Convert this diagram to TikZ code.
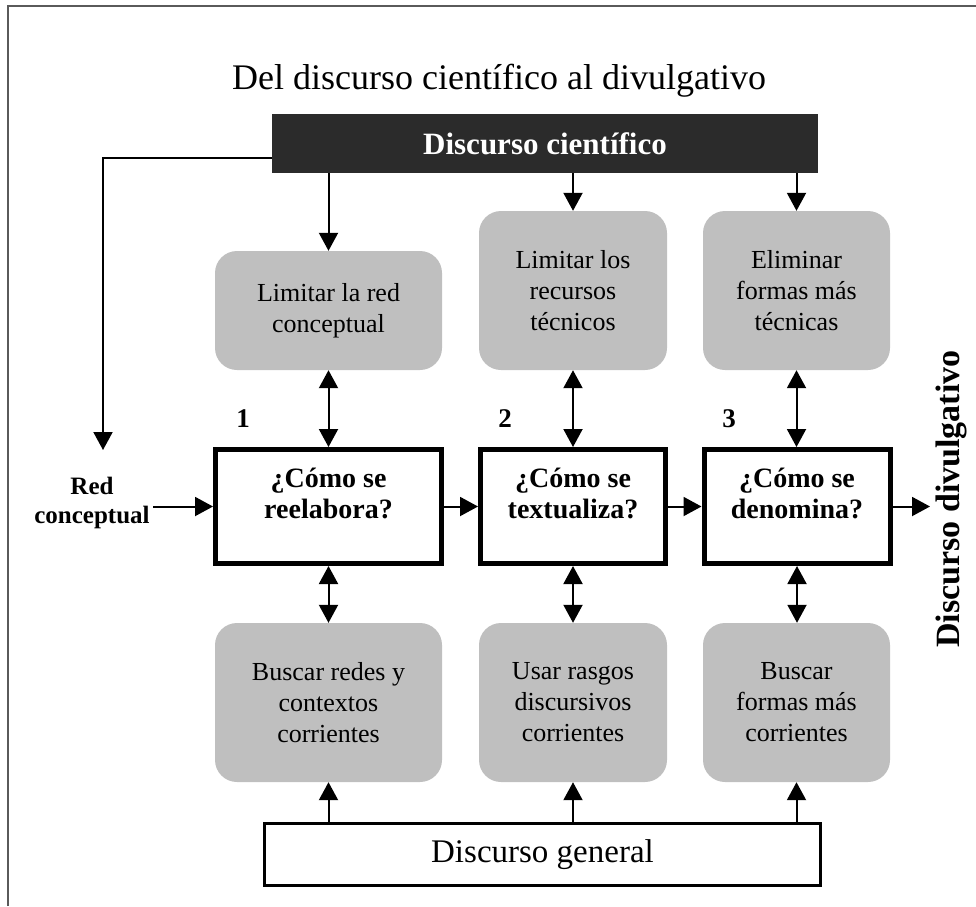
\documentclass[tikz,border=0pt]{standalone}
\usepackage{fontspec}
\setmainfont{Liberation Serif}
\usetikzlibrary{arrows.meta,calc}
\definecolor{boxgray}{HTML}{BFBFBF}
\definecolor{darkbox}{HTML}{2B2B2B}
\definecolor{framegray}{HTML}{5A5A5A}
\begin{document}
\begin{tikzpicture}[x=1pt,y=-1pt,
  tip/.tip={Triangle[width=19pt,length=18pt]},
  conn/.style={line width=2pt,-tip},
  dconn/.style={line width=2pt,tip-tip},
  graybox/.style={fill=boxgray,rounded corners=22pt,inner sep=0pt,align=center,
    font=\fontsize{26}{31}\selectfont},
  qbox/.style={draw=black,line width=5pt,fill=white,inner sep=0pt},
  qtext/.style={align=center,font=\fontsize{28}{31}\selectfont\bfseries},
  numlabel/.style={anchor=base,font=\fontsize{27}{30}\selectfont\bfseries},
]
\useasboundingbox (0,0) rectangle (976,906);
\draw[framegray,line width=2pt] (8,906) -- (8,6) -- (976,6);

\node[anchor=base,font=\fontsize{36}{40}\selectfont] (title) at (499,89) {Del discurso científico al divulgativo};

\node[fill=darkbox,inner sep=0pt,minimum width=546pt,minimum height=59pt,
  text=white,font=\fontsize{31}{34}\selectfont\bfseries] (dark) at (545,143.5) {Discurso científico};

% top gray boxes
\node[graybox,minimum width=227pt,minimum height=119pt] (g1) at (328.5,310.5) {Limitar la red\\conceptual};
\node[graybox,minimum width=188pt,minimum height=159pt] (g2) at (573,290.5) {Limitar los\\recursos\\técnicos};
\node[graybox,minimum width=187pt,minimum height=159pt] (g3) at (796.5,290.5) {Eliminar\\formas más\\técnicas};

% question boxes
\node[qbox,minimum width=226pt,minimum height=114pt] (q1) at (328.5,506.5) {};
\node[qbox,minimum width=185pt,minimum height=114pt] (q2) at (573,506.5) {};
\node[qbox,minimum width=186pt,minimum height=114pt] (q3) at (797,506.5) {};
\node[qtext] (q1t) at ([yshift=13pt]q1.center) {¿Cómo se\\reelabora?};
\node[qtext] (q2t) at ([yshift=13pt]q2.center) {¿Cómo se\\textualiza?};
\node[qtext] (q3t) at ([yshift=13pt]q3.center) {¿Cómo se\\denomina?};

\node[numlabel] (n1) at (243,427) {1};
\node[numlabel] (n2) at (505,427) {2};
\node[numlabel] (n3) at (729,427) {3};

% bottom gray boxes
\node[graybox,minimum width=227pt,minimum height=159pt] (b1) at (328.5,702.5) {Buscar redes y\\contextos\\corrientes};
\node[graybox,minimum width=188pt,minimum height=159pt] (b2) at (573,702.5) {Usar rasgos\\discursivos\\corrientes};
\node[graybox,minimum width=187pt,minimum height=159pt] (b3) at (796.5,702.5) {Buscar\\formas más\\corrientes};

\node[draw=black,line width=2.5pt,fill=white,inner sep=0pt,minimum width=556pt,minimum height=62pt,
  font=\fontsize{33}{36}\selectfont] (dg) at (542.5,854.5) {Discurso general};

\node[align=center,font=\fontsize{25}{29}\selectfont\bfseries] (red) at (92,503) {Red\\conceptual};
\node[rotate=90,font=\fontsize{34}{38}\selectfont\bfseries] (div) at (951,499) {Discurso divulgativo};
\coordinate (redin) at (103,450);
\coordinate (out) at (930,506.5);

% connectors
\draw[conn] ([yshift=-14.5pt]dark.west) -| (redin);
\draw[conn] (g1.north |- dark.south) -- (g1.north);
\draw[conn] (g2.north |- dark.south) -- (g2.north);
\draw[conn] (g3.north |- dark.south) -- (g3.north);

\draw[dconn] (g1.south) -- (g1.south |- q1.north);
\draw[dconn] (g2.south) -- (g2.south |- q2.north);
\draw[dconn] (g3.south) -- (g3.south |- q3.north);

\draw[dconn] (q1.south) -- (q1.south |- b1.north);
\draw[dconn] (q2.south) -- (q2.south |- b2.north);
\draw[dconn] (q3.south) -- (q3.south |- b3.north);

\draw[conn] (b1.south |- dg.north) -- (b1.south);
\draw[conn] (b2.south |- dg.north) -- (b2.south);
\draw[conn] (b3.south |- dg.north) -- (b3.south);

\draw[conn] (red.east |- q1.west) -- (q1.west);
\draw[conn] (q1.east) -- (q2.west);
\draw[conn] (q2.east) -- (q3.west);
\draw[conn] (q3.east) -- (out);
\end{tikzpicture}
\end{document}
